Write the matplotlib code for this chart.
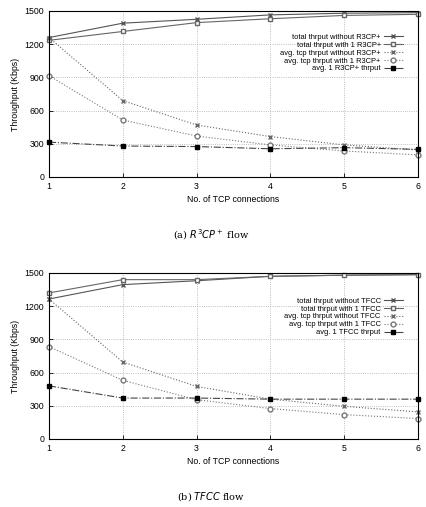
import numpy as np
import matplotlib
matplotlib.use("Agg")
import matplotlib.pyplot as plt

conns = [1, 2, 3, 4, 5, 6]

# (a) R3CP+ flow
r3_total_without = [1260, 1390, 1425, 1465, 1480, 1485]
r3_total_with = [1235, 1315, 1395, 1430, 1460, 1470]
r3_avg_tcp_without = [1260, 690, 470, 365, 290, 245]
r3_avg_tcp_with = [915, 515, 370, 290, 235, 200]
r3_avg_flow = [315, 280, 275, 255, 265, 250]

# (b) TFCC flow
tf_total_without = [1265, 1395, 1430, 1470, 1480, 1485]
tf_total_with = [1320, 1440, 1440, 1470, 1480, 1485]
tf_avg_tcp_without = [1265, 695, 475, 360, 295, 245]
tf_avg_tcp_with = [835, 530, 355, 275, 220, 185]
tf_avg_flow = [480, 370, 370, 360, 360, 360]

yticks = [0, 300, 600, 900, 1200, 1500]

plt.rcParams['font.family'] = ['Liberation Sans', 'DejaVu Sans']

fig = plt.figure(figsize=(4.27, 5.07), dpi=100)
W, H = 427, 507


def panel(top_px, bottom_px, series, name, leg_y):
    ax = fig.add_axes([49 / W, 1 - bottom_px / H, (418 - 49) / W, (bottom_px - top_px) / H])
    styles = [
        dict(ls='-', marker='x', ms=2.5, mfc='none', lw=0.8, color='#555555'),
        dict(ls='-', marker='s', ms=3.2, mfc='white', lw=0.8, color='#666666'),
        dict(ls=':', marker='x', ms=2.5, mfc='none', lw=0.8, color='#666666'),
        dict(ls=':', marker='o', ms=3.5, mfc='white', lw=0.8, color='#777777'),
        dict(ls='-.', marker='s', ms=3.2, mfc='black', lw=0.8, color='#444444', mec='black'),
    ]
    labels = [
        f'total thrput without {name}',
        f'total thrput with 1 {name}',
        f'avg. tcp thrput without {name}',
        f'avg. tcp thrput with 1 {name}',
        f'avg. 1 {name} thrput',
    ]
    for vals, st, lab in zip(series, styles, labels):
        ax.plot(conns, vals, label=lab, clip_on=False, **st)
    ax.set_xlim(1, 6)
    ax.set_ylim(0, 1500)
    ax.set_xticks(conns)
    ax.set_yticks(yticks)
    ax.grid(True, ls=':', lw=0.6, color='#aaaaaa')
    ax.tick_params(direction='in', length=3, width=0.6, labelsize=6.3)
    for s in ax.spines.values():
        s.set_linewidth(0.8)
    ax.set_xlabel('No. of TCP connections', fontsize=6.3, labelpad=3)
    ax.set_ylabel('Throughput (Kbps)', fontsize=6.3, labelpad=3)
    leg = ax.legend(loc='upper right', bbox_to_anchor=(0.97, leg_y), markerfirst=False,
                    frameon=False, fontsize=5.4, handlelength=2.6, labelspacing=0.08,
                    borderpad=0.0, handletextpad=0.4)
    for t in leg.get_texts():
        t.set_ha('right')
    return ax


panel(11, 177, [r3_total_without, r3_total_with, r3_avg_tcp_without,
                r3_avg_tcp_with, r3_avg_flow], 'R3CP+', 0.885)
panel(273, 439, [tf_total_without, tf_total_with, tf_avg_tcp_without,
                 tf_avg_tcp_with, tf_avg_flow], 'TFCC', 0.875)

fig.text(211 / W, 1 - 235 / H, r'(a) $R^3CP^+$ flow', ha='center', va='center',
         fontsize=7, family='DejaVu Serif')
fig.text(211 / W, 1 - 497 / H, r'(b) $TFCC$ flow', ha='center', va='center',
         fontsize=7, family='DejaVu Serif')

fig.savefig('out.png', dpi=100)
